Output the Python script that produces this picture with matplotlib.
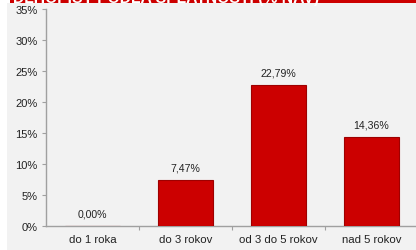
import matplotlib
matplotlib.use("Agg")
import matplotlib.pyplot as plt
from matplotlib.patches import Rectangle
from matplotlib.ticker import FuncFormatter, FixedLocator

categories = ["do 1 roka", "do 3 rokov", "od 3 do 5 rokov", "nad 5 rokov"]
values = [0.00, 7.47, 22.79, 14.36]
value_labels = ["0,00%", "7,47%", "22,79%", "14,36%"]
title = "DLHOPISY PODĽA SPLATNOSTI (% NAV)"

W, H = 416, 251
fig = plt.figure(figsize=(W / 100, H / 100), dpi=100)
fig.patch.set_facecolor("white")
plt.rcParams["font.family"] = ["Liberation Sans", "DejaVu Sans"]

# gray panel
fig.patches.append(Rectangle((7 / W, 0), 1 - 7 / W, 1 - 4 / H, transform=fig.transFigure,
                             facecolor="#F2F2F2", edgecolor="none", zorder=-2))
# red title band
fig.patches.append(Rectangle((10 / W, 1 - 4 / H), 1 - 10 / W, 4 / H, transform=fig.transFigure,
                             facecolor="#CC0000", edgecolor="none", zorder=-1))
fig.text(13 / W, 1 - 3 / H, title, color="white", fontsize=11.3, fontweight="bold",
         va="baseline", ha="left", zorder=2)

ax = fig.add_axes([46 / W, 1 - 227 / H, 372 / W, 217 / H])
ax.set_zorder(1)
ax.set_facecolor("none")
x = list(range(len(categories)))
ax.bar(x, values, width=0.59, color="#CC0000", edgecolor="#9E0000", linewidth=0.8, zorder=3)
for xi, v, lab in zip(x, values, value_labels):
    ax.text(xi, v + 1.2, lab, ha="center", va="bottom", fontsize=7.6, color="#222222")

ax.set_xlim(-0.5, 3.5)
ax.set_ylim(0, 35)
ax.set_yticks(range(0, 36, 5))
ax.yaxis.set_major_formatter(FuncFormatter(lambda v, p: f"{int(v)}%"))
ax.set_xticks(x)
ax.set_xticklabels(categories)
ax.xaxis.set_minor_locator(FixedLocator([0.5, 1.5, 2.5]))
ax.tick_params(axis="x", which="major", length=0, labelsize=8.2, labelcolor="#222222", pad=6)
ax.tick_params(axis="x", which="minor", length=3, color="#A0A0A0", width=0.8)
ax.tick_params(axis="y", length=3, color="#A0A0A0", width=0.8, labelsize=8,
               labelcolor="#222222", pad=3)
for s in ["top", "right"]:
    ax.spines[s].set_visible(False)
for s in ["left", "bottom"]:
    ax.spines[s].set_color("#A0A0A0")
    ax.spines[s].set_linewidth(1.0)

fig.savefig("out.png", dpi=100)
